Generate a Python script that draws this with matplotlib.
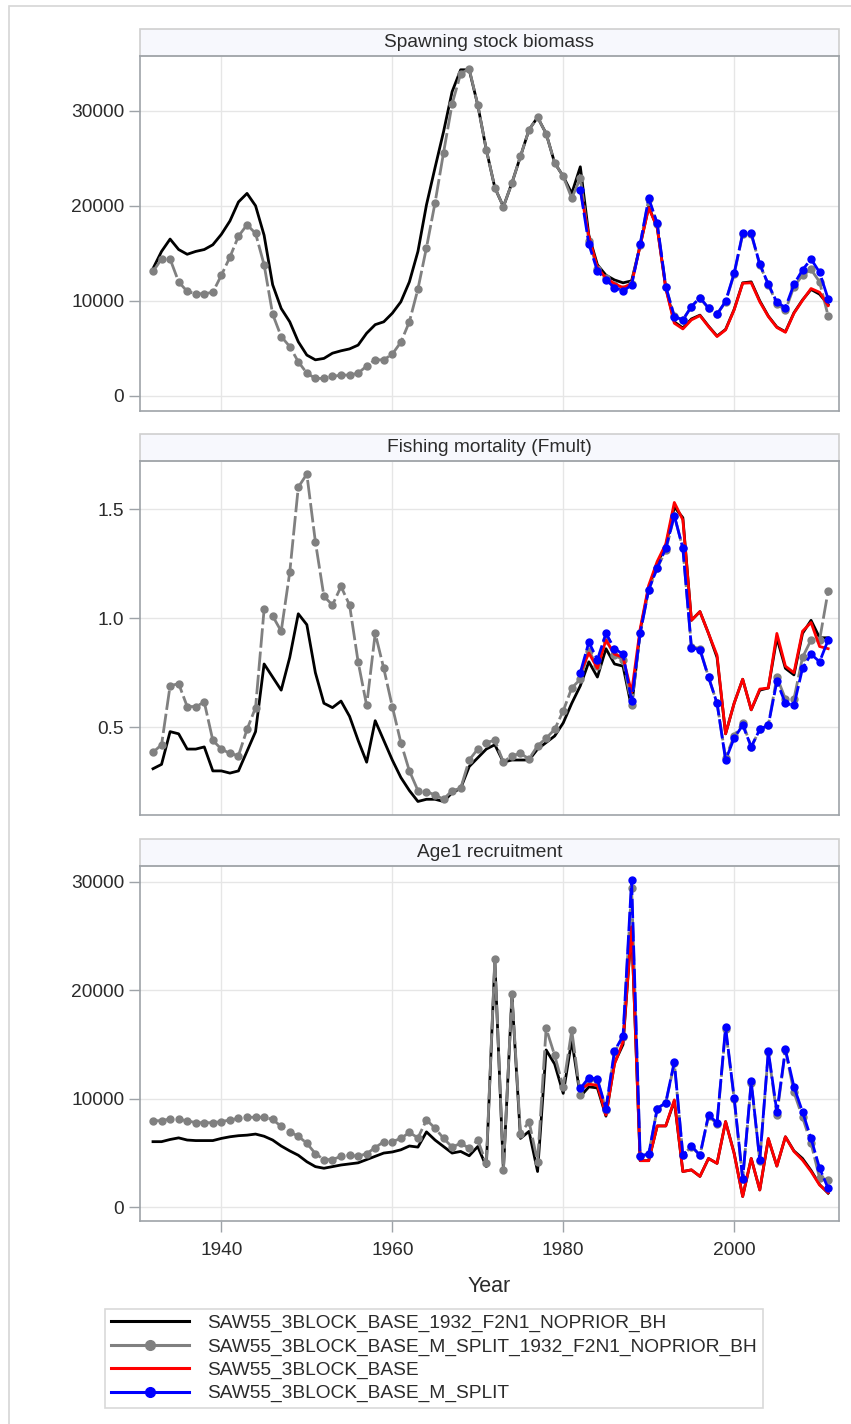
import numpy as np
import matplotlib
matplotlib.use("Agg")
import matplotlib.pyplot as plt
from matplotlib.lines import Line2D
from matplotlib.patches import Rectangle

plt.rcParams['font.family'] = ['Liberation Sans', 'DejaVu Sans']

# ---- data ----
yearsLong = np.arange(1932, 2012)
yearsShort = np.arange(1982, 2012)

ssbBlack = [13400, 15200, 16500, 15400, 14900, 15200, 15400, 15900, 17000, 18400,
            20400, 21300, 20000, 16900, 11700, 9200, 7800, 5700, 4300, 3800,
            3950, 4500, 4750, 4950, 5350, 6600, 7500, 7800, 8700, 9900,
            12000, 15200, 20100, 24000, 27800, 32000, 34300, 34300, 30600, 25900,
            21900, 19900, 22400, 25200, 28000, 29300, 27600, 24500, 23100, 21300,
            24100, 16900, 13800, 12700, 12200, 11900, 12100, 15800, 19900, 17700,
            11400, 7800, 7150, 8100, 8500, 7350, 6300, 7000, 9100, 11900,
            12000, 10000, 8400, 7250, 6750, 8750, 10100, 11200, 10700, 9600]
ssbGray = [13100, 14400, 14400, 12000, 11000, 10750, 10750, 10900, 12700, 14600,
           16800, 18000, 17100, 13800, 8600, 6250, 5200, 3600, 2400, 1850,
           1850, 2050, 2200, 2200, 2400, 3150, 3800, 3800, 4400, 5650,
           7800, 11250, 15600, 20300, 25600, 30700, 33900, 34400, 30600, 25900,
           21900, 19900, 22400, 25200, 28000, 29300, 27600, 24500, 23100, 20800,
           22900, 16300, 13400, 12400, 11700, 11300, 11800, 15900, 20700, 18100,
           11500, 8400, 8000, 9400, 10300, 9200, 8600, 9900, 12800, 17000,
           17000, 13800, 11700, 9700, 9000, 11500, 12700, 13300, 12000, 8400]
ssbRed = [21700, 16800, 13500, 12400, 11800, 11400, 11800, 15800, 19800, 17700,
          11300, 7650, 7050, 8000, 8450, 7300, 6250, 6950, 9050, 11850,
          11900, 9900, 8350, 7200, 6700, 8700, 10050, 11300, 10900, 9500]
ssbBlue = [21700, 15950, 13150, 12200, 11400, 11050, 11650, 15950, 20800, 18150,
           11500, 8350, 8000, 9400, 10350, 9250, 8600, 9950, 12900, 17100,
           17100, 13850, 11750, 9850, 9300, 11750, 13250, 14400, 13000, 10200]

fBlack = [0.31, 0.33, 0.48, 0.47, 0.40, 0.40, 0.41, 0.30, 0.30, 0.29,
          0.30, 0.39, 0.48, 0.79, 0.73, 0.67, 0.82, 1.02, 0.97, 0.75,
          0.61, 0.59, 0.62, 0.55, 0.44, 0.34, 0.53, 0.44, 0.35, 0.27,
          0.21, 0.16, 0.17, 0.17, 0.16, 0.20, 0.22, 0.32, 0.36, 0.40,
          0.42, 0.34, 0.35, 0.35, 0.35, 0.40, 0.43, 0.46, 0.52, 0.61,
          0.69, 0.80, 0.73, 0.86, 0.79, 0.78, 0.59, 0.94, 1.14, 1.25,
          1.33, 1.51, 1.46, 0.99, 1.03, 0.93, 0.82, 0.47, 0.61, 0.72,
          0.58, 0.67, 0.68, 0.91, 0.77, 0.74, 0.93, 0.99, 0.91, 0.91]
fGray = [0.385, 0.42, 0.69, 0.70, 0.595, 0.595, 0.615, 0.44, 0.40, 0.38,
         0.37, 0.49, 0.59, 1.04, 1.01, 0.94, 1.21, 1.60, 1.66, 1.35,
         1.10, 1.06, 1.145, 1.06, 0.80, 0.60, 0.93, 0.77, 0.595, 0.43,
         0.30, 0.21, 0.205, 0.19, 0.17, 0.21, 0.22, 0.35, 0.40, 0.43,
         0.44, 0.34, 0.37, 0.38, 0.355, 0.415, 0.45, 0.49, 0.575, 0.68,
         0.72, 0.85, 0.78, 0.90, 0.83, 0.81, 0.60, 0.93, 1.13, 1.23,
         1.31, 1.47, 1.32, 0.87, 0.86, 0.73, 0.61, 0.36, 0.46, 0.52,
         0.41, 0.49, 0.51, 0.73, 0.63, 0.63, 0.82, 0.90, 0.90, 1.125]
fRed = [0.75, 0.84, 0.77, 0.90, 0.835, 0.82, 0.66, 0.95, 1.15, 1.26,
        1.34, 1.53, 1.45, 0.99, 1.03, 0.93, 0.83, 0.47, 0.61, 0.72,
        0.58, 0.675, 0.68, 0.93, 0.78, 0.75, 0.94, 0.98, 0.87, 0.86]
fBlue = [0.75, 0.89, 0.81, 0.93, 0.86, 0.835, 0.62, 0.93, 1.13, 1.23,
         1.32, 1.47, 1.32, 0.865, 0.855, 0.73, 0.61, 0.35, 0.45, 0.51,
         0.41, 0.49, 0.51, 0.71, 0.61, 0.60, 0.77, 0.835, 0.80, 0.90]

recBlack = [6050, 6050, 6250, 6400, 6200, 6150, 6150, 6150, 6350, 6500,
            6600, 6650, 6750, 6550, 6200, 5650, 5200, 4800, 4200, 3750,
            3600, 3750, 3900, 4000, 4100, 4400, 4700, 5000, 5100, 5300,
            5650, 5550, 6950, 6200, 5600, 5000, 5150, 4750, 5600, 3750,
            22700, 3400, 19500, 6350, 7000, 3300, 14500, 13200, 10500, 15400,
            10200, 11100, 11000, 8400, 13300, 15000, 25800, 4300, 4300, 7500,
            7500, 9800, 3300, 3450, 2850, 4500, 4050, 7900, 5000, 1000,
            4500, 1600, 6300, 3800, 6500, 5200, 4500, 3400, 2100, 1300]
recGray = [7980, 7980, 8150, 8100, 7980, 7800, 7800, 7800, 7900, 8050,
           8200, 8300, 8300, 8300, 8100, 7450, 6950, 6550, 5900, 4950,
           4400, 4400, 4700, 4800, 4700, 4950, 5500, 6050, 6050, 6350,
           6900, 6400, 8050, 7300, 6350, 5550, 5900, 5450, 6200, 4050,
           22900, 3450, 19700, 6800, 7900, 4200, 16500, 14000, 11100, 16300,
           10350, 11800, 11700, 9000, 14300, 15700, 29400, 4700, 4900, 9100,
           9600, 13300, 4800, 5600, 4800, 8400, 7700, 16400, 10000, 2600,
           11500, 4300, 14300, 8500, 14500, 10600, 8300, 5900, 2700, 2500]
recRed = [10900, 11350, 11250, 8500, 13200, 15250, 25850, 4300, 4300, 7500,
          7500, 9900, 3300, 3450, 2850, 4500, 4050, 7900, 4950, 1000,
          4500, 1600, 6350, 3800, 6500, 5150, 4350, 3300, 2050, 1350]
recBlue = [10950, 11950, 11800, 9100, 14400, 15800, 30150, 4750, 4900, 9100,
           9650, 13400, 4800, 5650, 4800, 8500, 7800, 16600, 10100, 2600,
           11600, 4350, 14400, 8800, 14550, 11100, 8800, 6350, 3600, 1750]

runNames = ["SAW55_3BLOCK_BASE_1932_F2N1_NOPRIOR_BH",
            "SAW55_3BLOCK_BASE_M_SPLIT_1932_F2N1_NOPRIOR_BH",
            "SAW55_3BLOCK_BASE",
            "SAW55_3BLOCK_BASE_M_SPLIT"]
panelTitles = ["Spawning stock biomass", "Fishing mortality (Fmult)", "Age1 recruitment"]

# ---- styling ----
W, H = 851, 1424
frameColor = "#9ea3a8"
gridColor = "#e6e6e6"
textColor = "#2b2b2b"
fs = 13.8
lineW = 2.0
dashed = (0, (7, 1.4))

fig = plt.figure(figsize=(W / 100, H / 100), dpi=100)
fig.patches.append(Rectangle((9 / W, -0.05), 1.2, 1 - 5.5 / H + 0.05,
                             transform=fig.transFigure, fill=False,
                             edgecolor="#d6d6d6", linewidth=1.2))


def makeAxes(topPx, bottomPx):
    left = 139.5 / W
    width = (839 - 139.5) / W
    return fig.add_axes([left, 1 - bottomPx / H, width, (bottomPx - topPx) / H])


panelSpecs = [
    (56, 411, (ssbBlack, ssbGray, ssbRed, ssbBlue), (-1580, 35750), [0, 10000, 20000, 30000], None),
    (461, 815, (fBlack, fGray, fRed, fBlue), (0.098, 1.72), [0.5, 1.0, 1.5], "%.1f"),
    (866, 1221, (recBlack, recGray, recRed, recBlue), (-1260, 31450), [0, 10000, 20000, 30000], None),
]

headerPx = 26.7
for i, (topPx, bottomPx, series, ylim, yticks, fmt) in enumerate(panelSpecs):
    ax = makeAxes(topPx, bottomPx)
    black, gray, red, blue = series
    ax.plot(yearsLong, black, color="black", lw=lineW, zorder=3)
    ax.plot(yearsLong, gray, color="#808080", lw=lineW, ls=dashed,
            marker="o", ms=5.0, zorder=4)
    ax.plot(yearsShort, red, color="#ff0000", lw=lineW, zorder=5)
    ax.plot(yearsShort, blue, color="#0000ff", lw=lineW, ls=dashed,
            marker="o", ms=5.0, zorder=6)

    ax.set_xlim(1930.42, 2012.27)
    ax.set_ylim(*ylim)
    ax.set_xticks([1940, 1960, 1980, 2000])
    ax.set_yticks(yticks)
    if fmt:
        ax.set_yticklabels([fmt % v for v in yticks])
    ax.grid(True, color=gridColor, lw=1.0, zorder=0)
    ax.set_axisbelow(True)
    for sp in ax.spines.values():
        sp.set_color(frameColor)
        sp.set_linewidth(1.2)
    ax.tick_params(axis="y", direction="out", length=8, width=1.0,
                   color=frameColor, labelsize=fs, labelcolor=textColor, pad=3)
    if i < 2:
        ax.tick_params(axis="x", bottom=False, labelbottom=False)
    else:
        ax.tick_params(axis="x", direction="out", length=8, width=1.0,
                       color=frameColor, labelsize=fs, labelcolor=textColor, pad=7)
        ax.set_xlabel("Year", fontsize=15.5, color=textColor, labelpad=12)

    hFrac = headerPx / (bottomPx - topPx)
    ax.add_patch(Rectangle((0, 1), 1, hFrac, transform=ax.transAxes,
                           facecolor="#f7f8fd", edgecolor="#cfcfcf",
                           lw=1.2, clip_on=False, zorder=1))
    ax.text(0.5, 1 + hFrac / 2, panelTitles[i], transform=ax.transAxes,
            ha="center", va="center", fontsize=fs, color=textColor)

handles = [
    Line2D([], [], color="black", lw=2.2),
    Line2D([], [], color="#808080", lw=2.2, marker="o", ms=7),
    Line2D([], [], color="#ff0000", lw=2.2),
    Line2D([], [], color="#0000ff", lw=2.2, marker="o", ms=7),
]
leg = fig.legend(handles, runNames, loc="upper left",
                 bbox_to_anchor=(105 / W, 1 - 1309 / H),
                 fontsize=fs, frameon=True, fancybox=False,
                 edgecolor="#cfcfcf", handlelength=4.1, handletextpad=0.95,
                 labelspacing=0.3, borderpad=0.3, borderaxespad=0)
leg.get_frame().set_linewidth(1.2)
for t in leg.get_texts():
    t.set_color(textColor)

fig.savefig("out.png", dpi=100)
